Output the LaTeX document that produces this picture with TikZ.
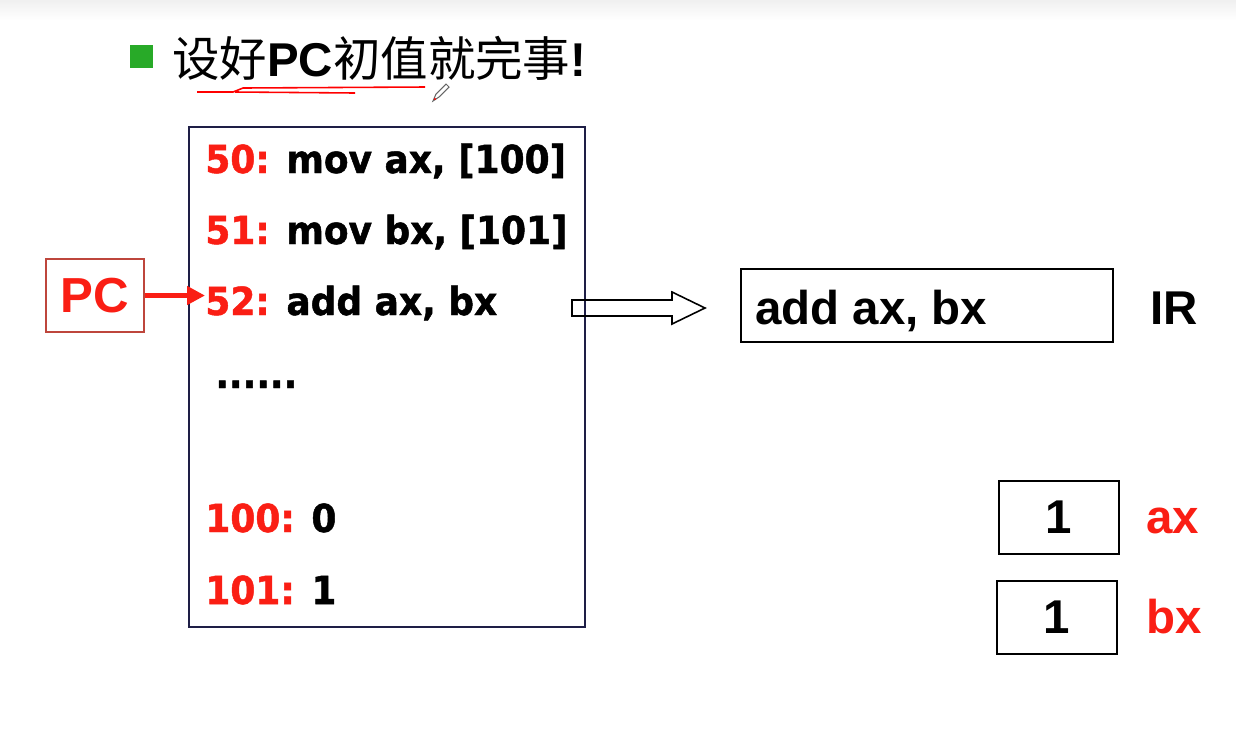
\documentclass[tikz,border=0pt]{standalone}
\usepackage{fontspec}
\setmainfont{Liberation Sans}
\newfontfamily\cjk{Noto Sans CJK SC}
\newfontfamily\verd[FakeStretch=0.93, BoldFeatures={FakeBold=1.2}]{DejaVu Sans}
\usepackage{tikz}
\usetikzlibrary{arrows.meta}

\definecolor{codered}{RGB}{250,30,20}
\definecolor{bulletgreen}{RGB}{40,170,40}
\definecolor{memborder}{RGB}{30,30,70}
\definecolor{pcborder}{RGB}{190,70,60}

\newcommand{\addr}[1]{\textcolor{codered}{#1}}

\begin{document}
\begin{tikzpicture}[x=0.02cm,y=-0.02cm,
  codeline/.style={anchor=base west, inner sep=0pt, font=\verd\bfseries\fontsize{22}{26}\selectfont},
  big/.style={inner sep=0pt, font=\bfseries\fontsize{27}{30}\selectfont},
  regbox/.style={draw=black, line width=0.9pt, minimum width=2.4cm, minimum height=1.46cm}]

\useasboundingbox (0,0) rectangle (1236,745);
\fill[top color=gray!12, bottom color=white] (0,0) rectangle (1236,20);

% title
\node[fill=bulletgreen, minimum size=0.46cm, inner sep=0pt] (bullet) at (141,56) {};
\node[anchor=base west, inner sep=0pt, font=\fontsize{27}{30}\selectfont] (title) at (172,76)
  {\cjk 设好\textbf{\rmfamily PC}初值就完事\textbf{\rmfamily !}};
\draw[red, line width=0.9pt] (197,92) -- (233,92) -- (243,88) -- (425,87);
\draw[red, line width=0.9pt] (235,92) -- (355,93);
\draw[black!60, line width=0.6pt] (433,101) -- (436,94) -- (446,84) -- (449,87) -- (439,97) -- cycle;
\fill[red] (435,99) circle (1.2);

% memory
\coordinate (memnw) at (189,127);
\coordinate (memse) at (585,627);
\draw[memborder, line width=0.9pt] (memnw) rectangle (memse);

\node[codeline] (l50) at (205,173) {\addr{50:} mov ax, [100]};
\node[codeline] (l51) at (205,244) {\addr{51:} mov bx, [101]};
\node[codeline] (l52) at (205,315) {\addr{52:} add ax, bx};
\node[codeline] (dots) at (215,388) {......};
\node[codeline] (l100) at (205,532) {\addr{100:} 0};
\node[codeline] (l101) at (205,604) {\addr{101:} 1};

% PC
\node[draw=pcborder, line width=0.8pt, minimum width=1.96cm, minimum height=1.46cm,
  inner sep=0pt, text=codered, font=\bfseries\fontsize{28}{30}\selectfont] (pc) at (95,295.5) {PC};
\draw[codered, line width=3.4pt, -{Triangle[length=0.36cm,width=0.36cm]}] (pc.east) -- (pc.east -| l52.west);

% fetch into IR
\coordinate (ftail) at (572,308);
\coordinate (ftip) at (705,308);
\draw[line width=0.9pt] (ftail) ++(0,-8) -- (672,300) -- (672,292) -- (ftip)
  -- (672,324) -- (672,316) -- (572,316) -- cycle;

\node[draw=black, line width=0.9pt, minimum width=7.44cm, minimum height=1.46cm] (ir) at (927,305.5) {};
\node[big, anchor=base west] (irtext) at (755,324) {add ax, bx};
\node[big, anchor=base west] (irlabel) at (1150,324) {IR};

% registers
\node[regbox, big] (ax) at (1059,517.5) {1};
\node[regbox, big] (bx) at (1057,617.5) {1};
\node[big, anchor=base west, text=codered] (axlabel) at (1146,533) {ax};
\node[big, anchor=base west, text=codered] (bxlabel) at (1146,633) {bx};

\end{tikzpicture}
\end{document}
